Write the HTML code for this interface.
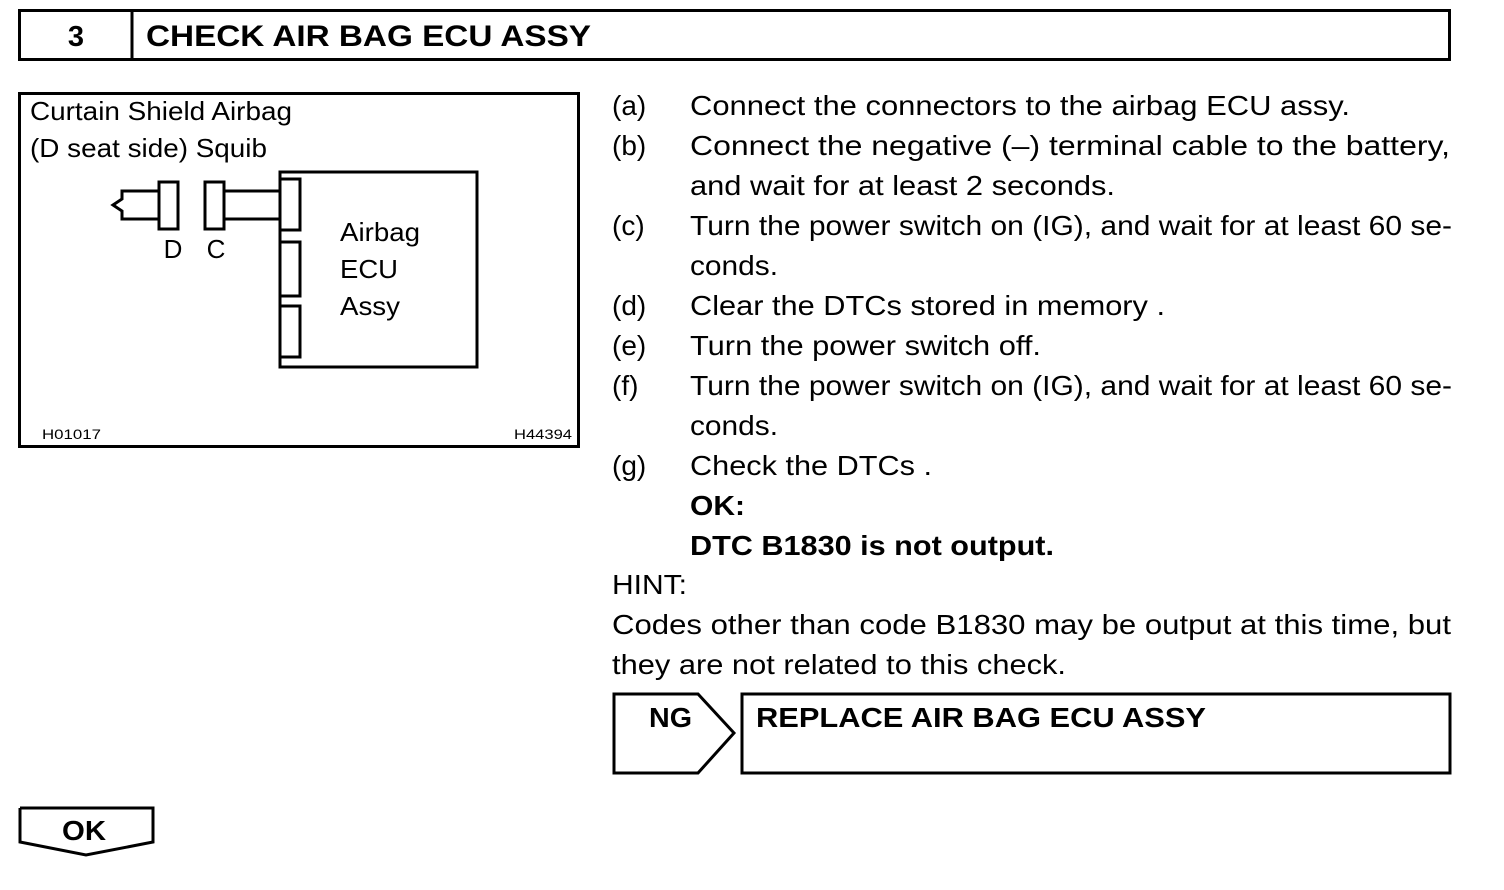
<!DOCTYPE html>
<html><head><meta charset="utf-8"><style>
html,body{margin:0;padding:0;background:#fff;}
svg{display:block;}
text{font-family:"Liberation Sans",Arial,sans-serif;fill:#000;}
</style></head><body>
<svg width="1504" height="890" viewBox="0 0 1504 890" xmlns="http://www.w3.org/2000/svg">
<g fill="none" stroke="#000" stroke-width="3">
<rect x="19.5" y="10.5" width="1430" height="49"/>
<line x1="132" y1="10" x2="132" y2="60"/>
<rect x="19.5" y="93.5" width="559" height="353"/>
<rect x="280" y="172" width="197" height="195"/>
<rect x="280" y="179" width="20" height="51"/>
<rect x="280" y="242" width="20" height="54"/>
<rect x="280" y="306" width="20" height="51"/>
<rect x="205" y="182" width="19" height="47"/>
<rect x="159" y="182" width="19" height="47"/>
<polyline points="224,191 280,191"/>
<polyline points="224,219 280,219"/>
<polyline points="159,191 122,191 122,199 113,205 122,211 122,219 159,219"/>
<polygon points="614,694 698,694 734,733 698,773 614,773"/>
<rect x="742" y="694" width="708" height="79"/>
<polyline points="20,808 20,842 86,855 153,842 153,808 20,808"/>
</g>
<g lengthAdjust="spacingAndGlyphs">
<text x="76" y="46" font-size="29" font-weight="bold" text-anchor="middle">3</text>
<text x="146" y="46" font-size="30" font-weight="bold" textLength="445" lengthAdjust="spacingAndGlyphs">CHECK AIR BAG ECU ASSY</text>
<g font-size="26">
<text x="30" y="120" textLength="262" lengthAdjust="spacingAndGlyphs">Curtain Shield Airbag</text>
<text x="30" y="157" textLength="237" lengthAdjust="spacingAndGlyphs">(D seat side) Squib</text>
<text x="173" y="258" text-anchor="middle">D</text>
<text x="216" y="258" text-anchor="middle">C</text>
<text x="340" y="241" textLength="80" lengthAdjust="spacingAndGlyphs">Airbag</text>
<text x="340" y="278" textLength="58" lengthAdjust="spacingAndGlyphs">ECU</text>
<text x="340" y="315" textLength="60" lengthAdjust="spacingAndGlyphs">Assy</text>
</g>
<text x="42" y="439" font-size="14" textLength="59" lengthAdjust="spacingAndGlyphs">H01017</text>
<text x="514" y="439" font-size="14" textLength="58" lengthAdjust="spacingAndGlyphs">H44394</text>
<g font-size="28">
<text x="612" y="115">(a)</text><text x="690" y="115" textLength="660" lengthAdjust="spacingAndGlyphs">Connect the connectors to the airbag ECU assy.</text>
<text x="612" y="155">(b)</text><text x="690" y="155" textLength="760" lengthAdjust="spacingAndGlyphs">Connect the negative (–) terminal cable to the battery,</text>
<text x="690" y="195" textLength="425" lengthAdjust="spacingAndGlyphs">and wait for at least 2 seconds.</text>
<text x="612" y="235">(c)</text><text x="690" y="235" textLength="762" lengthAdjust="spacingAndGlyphs">Turn the power switch on (IG), and wait for at least 60 se-</text>
<text x="690" y="275" textLength="88" lengthAdjust="spacingAndGlyphs">conds.</text>
<text x="612" y="315">(d)</text><text x="690" y="315" textLength="475" lengthAdjust="spacingAndGlyphs">Clear the DTCs stored in memory .</text>
<text x="612" y="355">(e)</text><text x="690" y="355" textLength="351" lengthAdjust="spacingAndGlyphs">Turn the power switch off.</text>
<text x="612" y="395">(f)</text><text x="690" y="395" textLength="762" lengthAdjust="spacingAndGlyphs">Turn the power switch on (IG), and wait for at least 60 se-</text>
<text x="690" y="435" textLength="88" lengthAdjust="spacingAndGlyphs">conds.</text>
<text x="612" y="475">(g)</text><text x="690" y="475" textLength="242" lengthAdjust="spacingAndGlyphs">Check the DTCs .</text>
<text x="690" y="515" font-weight="bold" textLength="55" lengthAdjust="spacingAndGlyphs">OK:</text>
<text x="690" y="555" font-weight="bold" textLength="364" lengthAdjust="spacingAndGlyphs">DTC B1830 is not output.</text>
<text x="612" y="594" textLength="75" lengthAdjust="spacingAndGlyphs">HINT:</text>
<text x="612" y="634" textLength="839" lengthAdjust="spacingAndGlyphs">Codes other than code B1830 may be output at this time, but</text>
<text x="612" y="674" textLength="454" lengthAdjust="spacingAndGlyphs">they are not related to this check.</text>
<text x="649" y="727" font-weight="bold" textLength="43" lengthAdjust="spacingAndGlyphs">NG</text>
<text x="756" y="727" font-weight="bold" textLength="450" lengthAdjust="spacingAndGlyphs">REPLACE AIR BAG ECU ASSY</text>
<text x="62" y="840" font-weight="bold" textLength="44" lengthAdjust="spacingAndGlyphs">OK</text>
</g>
</g>
</svg>
</body></html>
